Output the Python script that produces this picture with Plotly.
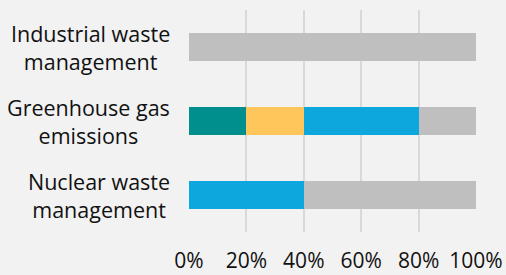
import plotly.graph_objects as go

categories = ["Industrial waste<br>management", "Greenhouse gas<br>emissions", "Nuclear waste<br>management"]
teal_vals = [0, 20, 0]
yellow_vals = [0, 20, 0]
blue_vals = [0, 40, 40]
gray_vals = [100, 20, 60]
tick_vals = [0, 20, 40, 60, 80, 100]
tick_text = ["0%", "20%", "40%", "60%", "80%", "100%"]

series = [
    ("Teal", teal_vals, "#008F8C"),
    ("Yellow", yellow_vals, "#FEC65B"),
    ("Blue", blue_vals, "#0DA6DD"),
    ("Gray", gray_vals, "#BFBFBF"),
]

fig = go.Figure()
for name, vals, color in series:
    fig.add_trace(go.Bar(
        y=categories, x=vals, name=name, orientation="h",
        marker=dict(color=color, line=dict(width=0)),
        width=0.39,
    ))

FONT = "Open Sans"
for c in categories:
    fig.add_annotation(
        x=-0.06, xref="paper", y=c, yref="y", text=c, showarrow=False,
        xanchor="right", yanchor="middle", align="center",
        font=dict(family=FONT, size=21.5, color="#111111"),
    )

fig.update_layout(
    barmode="stack",
    width=506, height=275,
    margin=dict(l=189, r=30, t=10, b=43, autoexpand=False),
    paper_bgcolor="#F2F2F2", plot_bgcolor="#F2F2F2",
    showlegend=False,
    bargap=0.61,
    xaxis=dict(
        range=[0, 100], tickvals=tick_vals, ticktext=tick_text,
        showgrid=True, gridcolor="#D9D9D9", gridwidth=2,
        zeroline=False, showline=False, ticks="",
        tickfont=dict(family=FONT, size=21, color="#111111"),
        ticklabelstandoff=14, automargin=False,
        fixedrange=True,
    ),
    yaxis=dict(
        categoryorder="array", categoryarray=categories[::-1],
        showticklabels=False, showgrid=False, zeroline=False, ticks="",
        fixedrange=True, automargin=False,
    ),
)

fig.write_html("out.html", config={"displayModeBar": False},
               post_script="document.body.style.margin='0px';")
